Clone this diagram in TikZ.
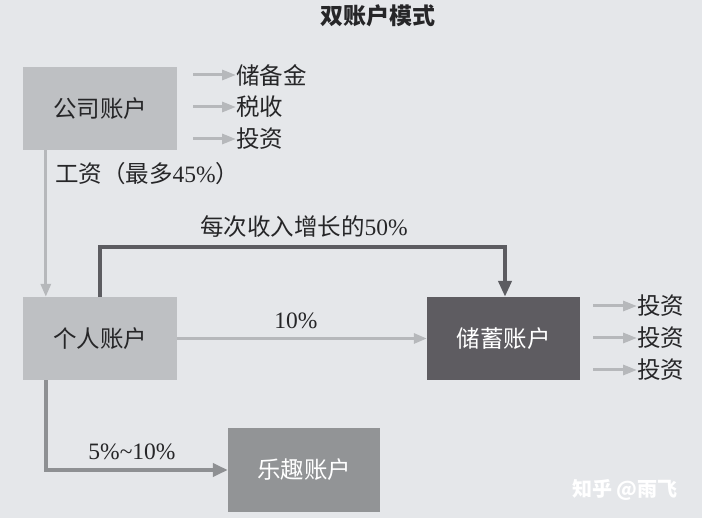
\documentclass[tikz,border=0pt]{standalone}
\usepackage{fontspec}
\setmainfont{Liberation Serif}
\newfontfamily\cjk{Noto Sans CJK SC}
\usetikzlibrary{arrows.meta,calc}
\definecolor{bgc}{RGB}{229,231,234}
\definecolor{boxlight}{RGB}{190,192,195}
\definecolor{boxdark}{RGB}{94,92,97}
\definecolor{boxmid}{RGB}{146,148,150}
\definecolor{arrlight}{RGB}{182,184,187}
\definecolor{arrdark}{RGB}{92,92,97}
\definecolor{arrmid}{RGB}{142,144,147}
\definecolor{txt}{RGB}{38,38,40}
\tikzset{
  acct/.style={rectangle, minimum width=154pt, minimum height=83pt, inner sep=0pt, font=\fontsize{23.5}{26}\selectfont\cjk},
  sidetext/.style={anchor=west, inner sep=0pt, text=txt, font=\fontsize{23.5}{26}\selectfont\cjk},
  lbl/.style={inner sep=0pt, text=txt, font=\fontsize{23.5}{26}\selectfont},
  sidearrow/.style={draw=arrlight, line width=3pt, -{Triangle[length=14pt,width=10pt]}},
  lightline/.style={draw=arrlight, line width=3pt, -{Triangle[length=13pt,width=10pt]}},
  darkline/.style={draw=arrdark, line width=4pt, -{Triangle[length=16pt,width=13pt]}},
  midline/.style={draw=arrmid, line width=4pt, -{Triangle[length=15pt,width=13pt]}}
}
\begin{document}
\begin{tikzpicture}[x=1pt,y=-1pt]
\fill[bgc] (0,0) rectangle (702,518);
\useasboundingbox (0,0) rectangle (702,518);
% title
\node[inner sep=0pt, text=txt, font=\fontsize{23}{26}\selectfont\cjk\bfseries] (title) at (378,16) {双账户模式};
% boxes
\node[acct, fill=boxlight, text=txt] (comp) at (100,108.5) {公司账户};
\node[acct, fill=boxlight, text=txt] (pers) at (100,338.5) {个人账户};
\node[acct, fill=boxdark, text=white, minimum width=153pt] (sav) at (503.5,338.5) {储蓄账户};
\node[acct, fill=boxmid, text=white, minimum width=152pt, minimum height=84pt] (fun) at (304,470) {乐趣账户};
% company side outputs
\node[sidetext] (c1) at (236,75) {储备金};
\node[sidetext] (c2) at (236,107) {税收};
\node[sidetext] (c3) at (236,139) {投资};
\coordinate (ca1) at (193,75);
\coordinate (ca2) at (193,107);
\coordinate (ca3) at (193,139);
\draw[sidearrow] (ca1) -- (c1.west);
\draw[sidearrow] (ca2) -- (c2.west);
\draw[sidearrow] (ca3) -- (c3.west);
% savings side outputs
\node[sidetext] (s1) at (637,306) {投资};
\node[sidetext] (s2) at (637,338) {投资};
\node[sidetext] (s3) at (637,370) {投资};
\coordinate (sa1) at (593,306);
\coordinate (sa2) at (593,338);
\coordinate (sa3) at (593,370);
\draw[sidearrow] (sa1) -- (s1.west);
\draw[sidearrow] (sa2) -- (s2.west);
\draw[sidearrow] (sa3) -- (s3.west);
% wage
\draw[lightline] ($(comp.south west)+(23,0)$) -- ($(pers.north west)+(23,0)$);
\node[lbl, anchor=west] (wage) at (55,174) {{\cjk 工资（最多}45\%{\cjk ）}};
% growth loop
\draw[darkline] (pers.north) -- ++(0,-50) -| ($(sav.north)+(1.5,0)$);
\node[lbl] (grow) at (304,227) {{\cjk 每次收入增长的}50\%};
% 10%
\draw[lightline] (pers.east) -- (sav.west);
\node[lbl] (ten) at (296,321) {10\%};
% fun
\draw[midline] ($(pers.south west)+(23,0)$) |- (fun.west);
\node[lbl] (five) at (132,452) {5\%\char"7E 10\%};
% watermark
\node[inner sep=0pt, text=white, font=\fontsize{20}{24}\selectfont\cjk\bfseries] (wm) at (625,490) {知乎 @雨飞};
\end{tikzpicture}
\end{document}
